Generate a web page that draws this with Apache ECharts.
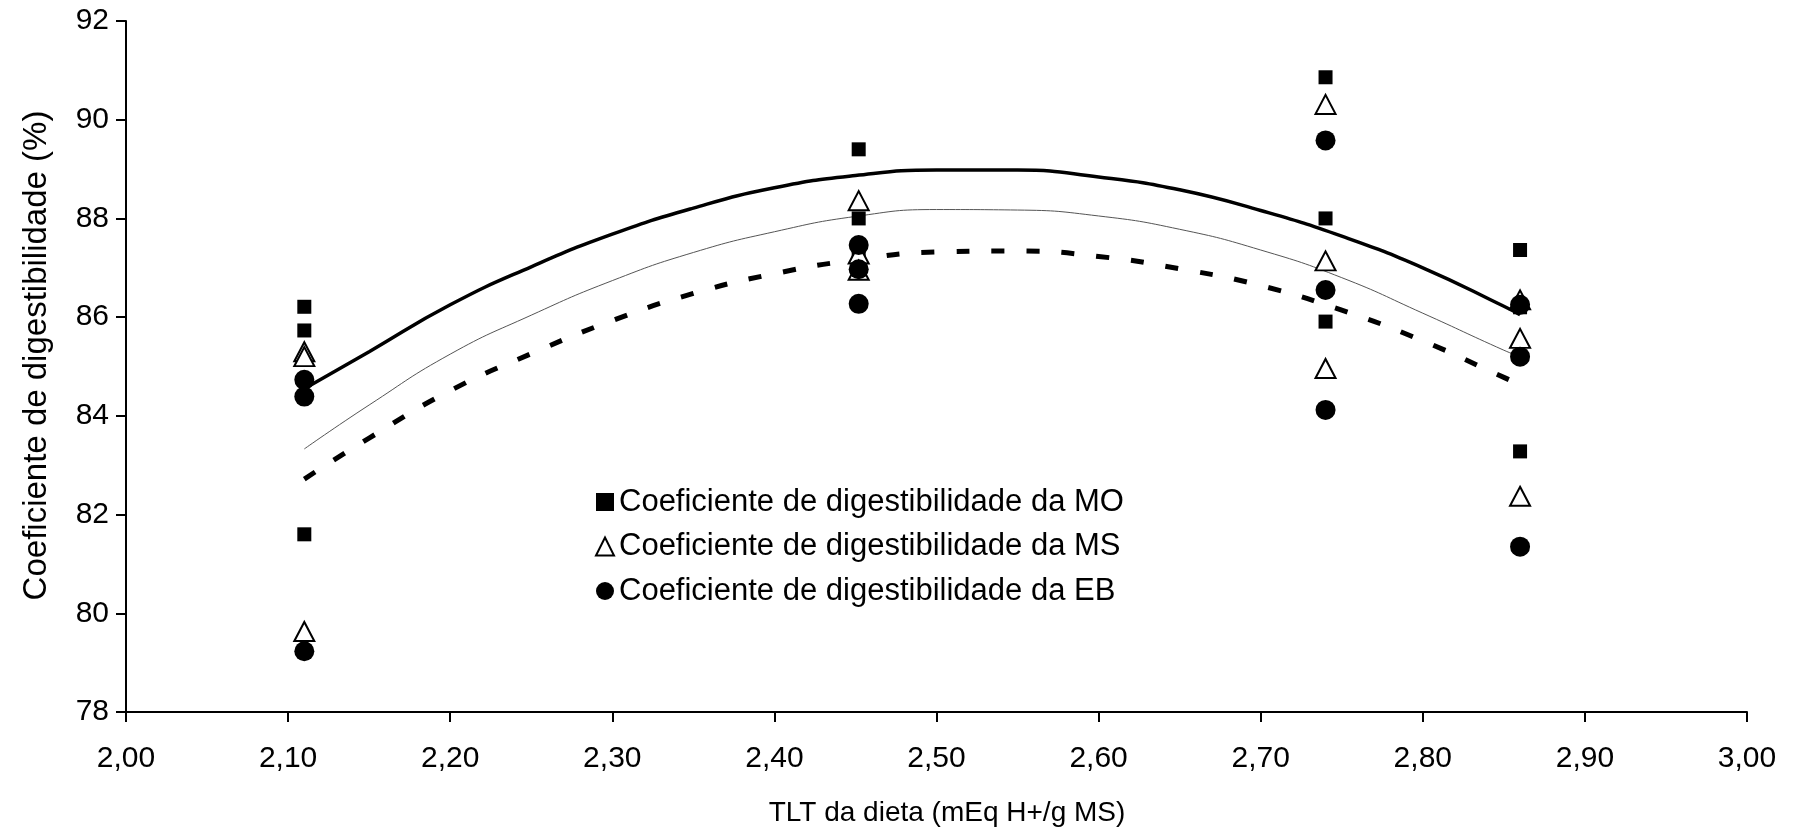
<!DOCTYPE html>
<html>
<head>
<meta charset="utf-8">
<title>Coeficiente de digestibilidade x TLT</title>
<script src="https://cdn.jsdelivr.net/npm/echarts@6/dist/echarts.min.js"></script>
<style>
  html, body { margin: 0; padding: 0; background: #fff; }
  #chart { width: 1796px; height: 832px; }
</style>
</head>
<body>
<div id="chart"></div>
<script>
// niveis de TLT (mEq H+/g MS)
const tlt = [2.11, 2.452, 2.74, 2.86];

// observacoes (3 por nivel)
const obsMO = [[86.21, 85.73, 81.60], [89.40, 88.00, 87.22], [90.86, 88.00, 85.91], [87.36, 86.20, 83.28]];
const obsMS = [[85.30, 85.20, 79.63], [88.36, 87.28, 86.95], [90.31, 87.14, 84.96], [86.35, 85.57, 82.37]];
const obsEB = [[84.73, 84.39, 79.23], [87.46, 86.97, 86.27], [89.58, 86.55, 84.12], [86.25, 85.20, 81.35]];

// curvas ajustadas, pontos
const curveX  = [2.11, 2.15, 2.20, 2.25, 2.30, 2.35, 2.40, 2.45, 2.50, 2.55, 2.60, 2.65, 2.70, 2.75, 2.80, 2.85, 2.86];
const curveMO = [84.55, 85.30, 86.25, 87.02, 87.68, 88.21, 88.62, 88.87, 88.98, 88.98, 88.84, 88.58, 88.16, 87.64, 87.00, 86.22, 86.05];
const curveMS = [83.33, 84.22, 85.25, 86.04, 86.74, 87.31, 87.73, 88.04, 88.18, 88.17, 88.05, 87.78, 87.36, 86.80, 86.08, 85.33, 85.20];
const curveEB = [82.72, 83.55, 84.51, 85.26, 85.93, 86.48, 86.88, 87.16, 87.32, 87.34, 87.23, 86.98, 86.64, 86.14, 85.52, 84.78, 84.63];

const names = [
  'Coeficiente de digestibilidade da MO',
  'Coeficiente de digestibilidade da MS',
  'Coeficiente de digestibilidade da EB'
];

function pairs(obs) {
  let out = [];
  obs.forEach(function (vals, i) {
    vals.forEach(function (v) { out.push([tlt[i], v]); });
  });
  return out;
}
function curve(ys) {
  return curveX.map(function (x, i) { return [x, ys[i]]; });
}

const FONT = 'Arial, "Liberation Sans", sans-serif';

let myChart = echarts.init(document.getElementById('chart'));
let option = {
  backgroundColor: '#fff',
  animation: false,
  textStyle: { fontFamily: FONT, color: '#000' },
  grid: { left: 126, right: 49, top: 21, bottom: 119 },
  legend: {
    orient: 'vertical',
    left: 590,
    top: 480,
    itemWidth: 18,
    itemHeight: 18,
    itemGap: 10.5,
    data: names,
    textStyle: { fontFamily: FONT, fontSize: 31, color: '#000', lineHeight: 34 }
  },
  xAxis: {
    type: 'value',
    min: 2, max: 3, interval: 0.1,
    name: 'TLT da dieta (mEq H+/g MS)',
    nameLocation: 'middle',
    nameGap: 87,
    nameTextStyle: { fontFamily: FONT, fontSize: 28, color: '#000', padding: [0, 0, 0, 21] },
    axisLine: { onZero: false, lineStyle: { color: '#000', width: 2 } },
    axisTick: { length: 10, lineStyle: { color: '#000', width: 2 } },
    axisLabel: {
      fontSize: 30, color: '#000', margin: 32,
      formatter: function (v) { return v.toFixed(2).replace('.', ','); }
    },
    splitLine: { show: false }
  },
  yAxis: {
    type: 'value',
    min: 78, max: 92, interval: 2,
    name: 'Coeficiente de digestibilidade (%)',
    nameLocation: 'middle',
    nameGap: 73,
    nameTextStyle: { fontFamily: FONT, fontSize: 33, color: '#000', padding: [0, 0, 0, 22] },
    axisLine: { show: true, onZero: false, lineStyle: { color: '#000', width: 2 } },
    axisTick: { show: true, length: 10, lineStyle: { color: '#000', width: 2 } },
    axisLabel: { fontSize: 30, color: '#000', margin: 17 },
    splitLine: { show: false }
  },
  series: [
    {
      name: 'ajuste MO', type: 'line', data: curve(curveMO),
      smooth: true, showSymbol: false, symbol: 'none',
      lineStyle: { color: '#000', width: 3.5 }, z: 1
    },
    {
      name: 'ajuste MS', type: 'line', data: curve(curveMS),
      smooth: true, showSymbol: false, symbol: 'none',
      lineStyle: { color: '#555', width: 1 }, z: 1
    },
    {
      name: 'ajuste EB', type: 'line', data: curve(curveEB),
      smooth: true, showSymbol: false, symbol: 'none',
      lineStyle: { color: '#000', width: 5, type: [13, 22] }, z: 1
    },
    {
      name: names[0], type: 'scatter', data: pairs(obsMO),
      symbol: 'rect', symbolSize: 14,
      itemStyle: { color: '#000', opacity: 1 }, z: 3
    },
    {
      name: names[1], type: 'scatter', data: pairs(obsMS),
      symbol: 'triangle', symbolSize: [20, 19],
      itemStyle: { color: '#fff', borderColor: '#000', borderWidth: 2, opacity: 1 }, z: 4
    },
    {
      name: names[2], type: 'scatter', data: pairs(obsEB),
      symbol: 'circle', symbolSize: 20,
      itemStyle: { color: '#000', opacity: 1 }, z: 5
    }
  ]
};
myChart.setOption(option);
window.addEventListener('resize', () => { myChart.resize(); });
</script>
</body>
</html>
